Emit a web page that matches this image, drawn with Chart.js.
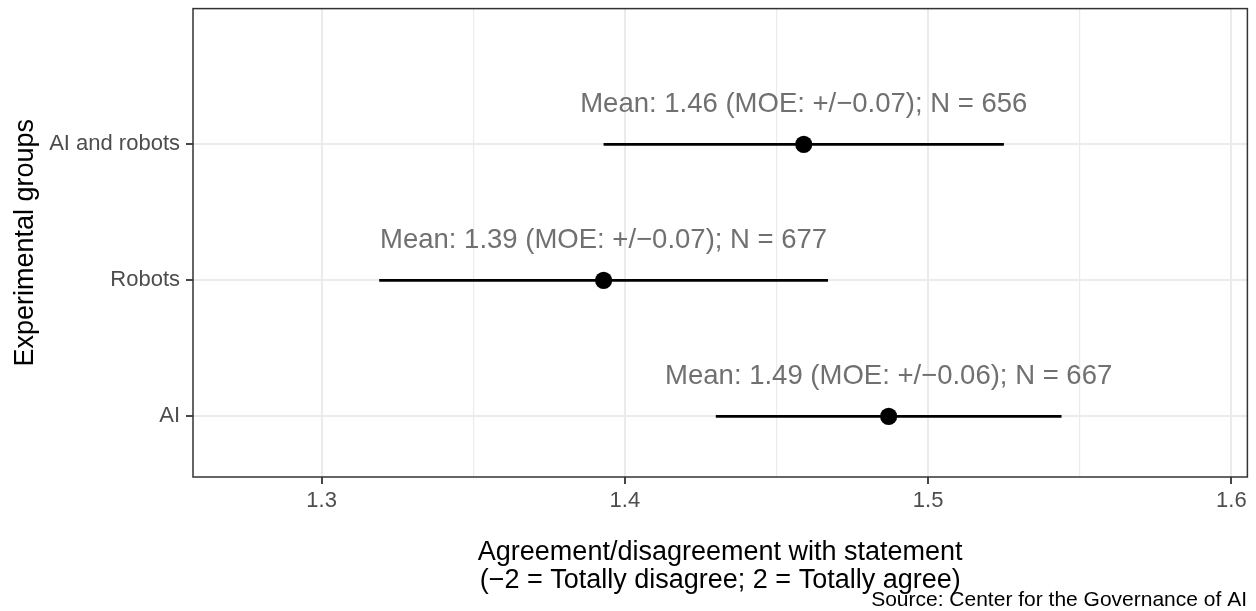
<!DOCTYPE html>
<html>
<head>
<meta charset="utf-8">
<title>Experimental groups</title>
<script src="https://cdn.jsdelivr.net/npm/chart.js@4.4.1/dist/chart.umd.min.js"></script>
<style>
  html, body { margin: 0; padding: 0; background: #ffffff; }
  #wrap { width: 1256px; height: 611px; position: relative; }
</style>
</head>
<body>
<div id="wrap"><canvas id="moeChart"></canvas></div>
<script>
// groups from bottom to top of the panel
const groups = ['AI', 'Robots', 'AI and robots'];
const groupPos = [1, 2, 3];
const means = [1.487, 1.393, 1.459];
const moes = [0.057, 0.074, 0.066];
const sampleN = [667, 677, 656];

const xTicks = [1.3, 1.35, 1.4, 1.45, 1.5, 1.55, 1.6];
const xMajor = [1.3, 1.4, 1.5, 1.6];

const FONT = '"Liberation Sans", Arial, Helvetica, sans-serif';
const labelLift = 0.29;

const isMajor = (v) => xMajor.some(m => Math.abs(m - v) < 1e-9);

// error bars: one short line per group
const barSets = means.map((m, i) => ({
    type: 'line',
    data: [
        { x: m - moes[i], y: groupPos[i] },
        { x: m + moes[i], y: groupPos[i] }
    ],
    borderColor: '#000000',
    borderWidth: 2.6,
    pointRadius: 0,
    showLine: true,
    order: 1
}));

const pointSet = {
    type: 'scatter',
    data: means.map((m, i) => ({ x: m, y: groupPos[i] })),
    backgroundColor: '#000000',
    borderColor: '#000000',
    pointRadius: 8.6,
    borderWidth: 0,
    order: 0
};

// text above each point, panel frame and source line
const annotate = {
    id: 'annotate',
    afterDatasetsDraw(chart) {
        const { ctx, chartArea, scales: { x, y } } = chart;
        ctx.save();
        ctx.font = '27.5px ' + FONT;
        ctx.fillStyle = '#707070';
        ctx.textAlign = 'center';
        ctx.textBaseline = 'middle';
        means.forEach((m, i) => {
            const text = 'Mean: ' + m.toFixed(2) + ' (MOE: +/\u2212' + moes[i].toFixed(2) + '); N = ' + sampleN[i];
            ctx.fillText(text, x.getPixelForValue(m), y.getPixelForValue(groupPos[i] + labelLift));
        });

        ctx.strokeStyle = '#333333';
        ctx.lineWidth = 1.5;
        ctx.strokeRect(chartArea.left, chartArea.top,
            chartArea.right - chartArea.left, chartArea.bottom - chartArea.top);
        ctx.restore();
    },
    afterDraw(chart) {
        const { ctx } = chart;
        ctx.save();
        ctx.font = '21px ' + FONT;
        ctx.fillStyle = '#000000';
        ctx.textAlign = 'right';
        ctx.textBaseline = 'alphabetic';
        ctx.fillText('Source: Center for the Governance of AI', 1247, 606);
        ctx.restore();
    }
};

const ctx = document.getElementById('moeChart').getContext('2d');

new Chart(ctx, {
    type: 'scatter',
    data: { datasets: [pointSet, ...barSets] },
    plugins: [annotate],
    options: {
        responsive: true,
        maintainAspectRatio: false,
        animation: false,
        layout: { padding: { top: 8, right: 8, left: 0, bottom: 0 } },
        plugins: {
            legend: { display: false },
            tooltip: { enabled: false }
        },
        scales: {
            x: {
                type: 'linear',
                min: 1.2576,
                max: 1.6053,
                afterFit: (scale) => {
                    scale.height = 134;
                    scale.paddingLeft = 0;
                    scale.paddingRight = 0;
                },
                afterBuildTicks: (scale) => {
                    scale.ticks = xTicks.map(v => ({ value: v }));
                },
                border: { display: false },
                grid: {
                    color: '#ebebeb',
                    lineWidth: (c) => isMajor(c.tick.value) ? 2 : 1.2,
                    tickColor: (c) => isMajor(c.tick.value) ? '#333333' : 'rgba(0,0,0,0)',
                    tickLength: 7,
                    tickWidth: 1.8
                },
                ticks: {
                    autoSkip: false,
                    maxRotation: 0,
                    padding: 4,
                    color: '#4d4d4d',
                    font: { family: FONT, size: 22 },
                    callback: (v) => isMajor(v) ? Number(v).toFixed(1) : ''
                },
                title: {
                    display: true,
                    text: ['Agreement/disagreement with statement', '(\u22122 = Totally disagree; 2 = Totally agree)'],
                    color: '#000000',
                    font: { family: FONT, size: 27, lineHeight: '28px' },
                    padding: { top: 0, bottom: 16 }
                }
            },
            y: {
                type: 'linear',
                min: 0.554,
                max: 3.998,
                afterFit: (scale) => {
                    scale.width = 193;
                    scale.paddingTop = 0;
                    scale.paddingBottom = 0;
                },
                afterBuildTicks: (scale) => {
                    scale.ticks = groupPos.map(v => ({ value: v }));
                },
                border: { display: false },
                grid: {
                    color: '#ebebeb',
                    lineWidth: 2,
                    tickColor: '#333333',
                    tickLength: 7,
                    tickWidth: 1.8
                },
                ticks: {
                    autoSkip: false,
                    padding: 6,
                    color: '#4d4d4d',
                    font: { family: FONT, size: 22 },
                    callback: (v) => groups[groupPos.indexOf(v)]
                },
                title: {
                    display: true,
                    text: 'Experimental groups',
                    color: '#000000',
                    font: { family: FONT, size: 27, lineHeight: 1 },
                    padding: { top: 12, bottom: 0 }
                }
            }
        }
    }
});
</script>
</body>
</html>
